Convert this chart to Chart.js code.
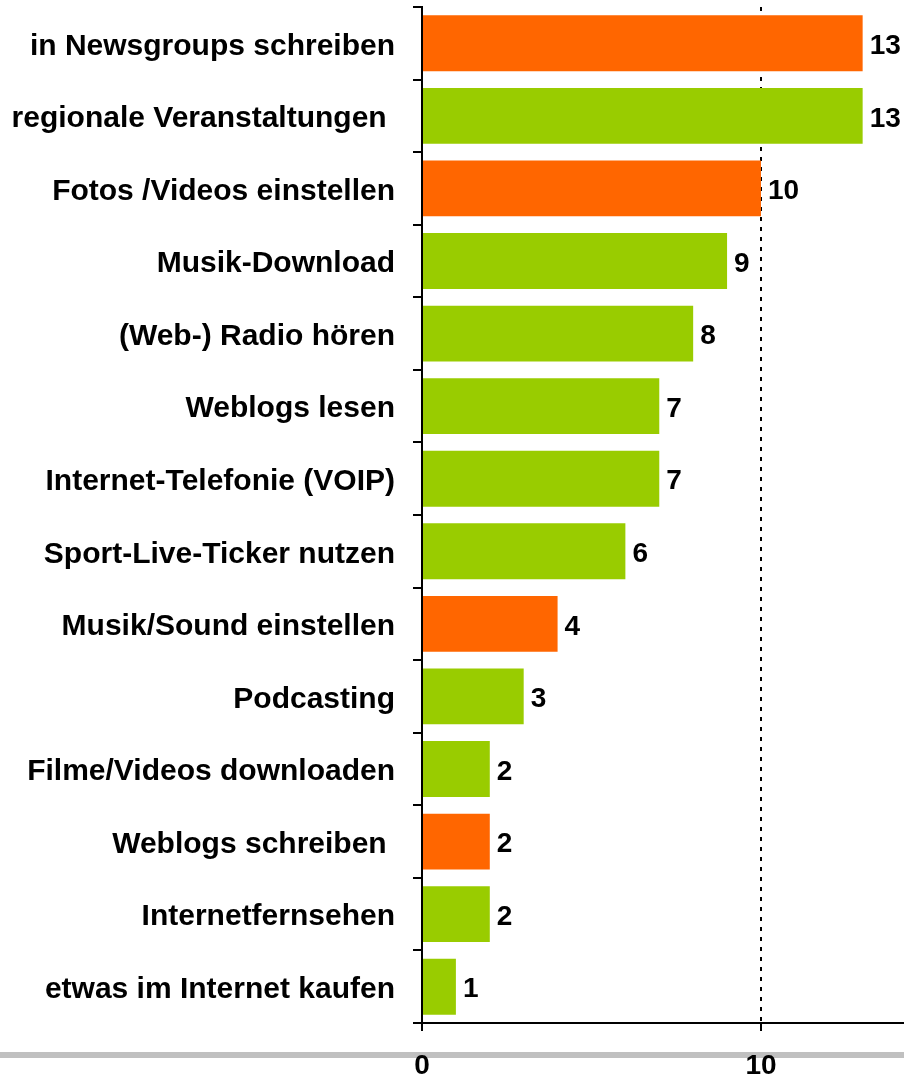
<!DOCTYPE html>
<html>
<head>
<meta charset="utf-8">
<script src="https://cdn.jsdelivr.net/npm/chart.js@4"></script>
<style>
  body{margin:0;background:#fff}
  canvas{display:block}
</style>
</head>
<body>
<canvas id="chart" width="904" height="1075"></canvas>
<script>
// data
const labels = ['in Newsgroups schreiben','regionale Veranstaltungen ','Fotos /Videos einstellen','Musik-Download',
  '(Web-) Radio hören','Weblogs lesen','Internet-Telefonie (VOIP)','Sport-Live-Ticker nutzen',
  'Musik/Sound einstellen','Podcasting','Filme/Videos downloaden','Weblogs schreiben ',
  'Internetfernsehen','etwas im Internet kaufen'];
const values = [13,13,10,9,8,7,7,6,4,3,2,2,2,1];
const orangeRows = [0,2,8,11];   // the orange bars
const xTicks = [0,10];
const xMax = 14.22;

const ORANGE = '#ff6600', GREEN = '#99cc00';
const FONT = "'Liberation Sans', Arial, sans-serif";
const colors = values.map((v,i)=>orangeRows.includes(i)?ORANGE:GREEN);

// numbers at the end of bars + grey rule at the bottom
const extras = {
  id:'extras',
  beforeDraw(chart){
    const c = chart.ctx;
    c.save();
    c.fillStyle = '#c0c0c0';
    c.fillRect(0,1052,chart.width,6);
    c.restore();
  },
  afterDatasetsDraw(chart){
    const c = chart.ctx;
    c.save();
    c.font = 'bold 28px '+FONT;
    c.fillStyle = '#000';
    c.textAlign = 'left';
    c.textBaseline = 'middle';
    chart.getDatasetMeta(0).data.forEach((bar,i)=>{
      c.fillText(values[i], bar.x+7, bar.y+3);
    });
    c.restore();
  }
};

new Chart(document.getElementById('chart'),{
  type:'bar',
  data:{labels, datasets:[{data:values, backgroundColor:colors, borderWidth:0,
    categoryPercentage:1, barPercentage:0.77}]},
  options:{
    indexAxis:'y',
    responsive:false,
    animation:false,
    devicePixelRatio:1,
    layout:{padding:{top:7,left:0,right:0,bottom:0}},
    plugins:{legend:{display:false}, tooltip:{enabled:false}},
    scales:{
      x:{
        min:0, max:xMax,
        afterBuildTicks: s => { s.ticks = xTicks.map(v=>({value:v})); },
        afterFit: s => { s.height = 52; s.paddingLeft = 0; s.paddingRight = 0; },
        border:{display:true, color:'#000', width:2, dash:[4,6]},
        grid:{
          color: ctx => ctx.tick && ctx.tick.value===10 ? '#000' : 'rgba(0,0,0,0)',
          tickColor:'#000', lineWidth:2, tickLength:8
        },
        ticks:{font:{family:FONT, size:28, weight:'bold'}, color:'#000', padding:18, maxRotation:0}
      },
      y:{
        afterFit: s => { s.width = 422; s.paddingTop = 0; s.paddingBottom = 0; },
        border:{display:true, color:'#000', width:2},
        grid:{drawOnChartArea:false, drawTicks:true, tickLength:9, color:'#000', lineWidth:2, offset:true},
        ticks:{font:{family:FONT, size:30, weight:'bold'}, color:'#000', padding:18, labelOffset:3, autoSkip:false}
      }
    }
  },
  plugins:[extras]
});
</script>
</body>
</html>
